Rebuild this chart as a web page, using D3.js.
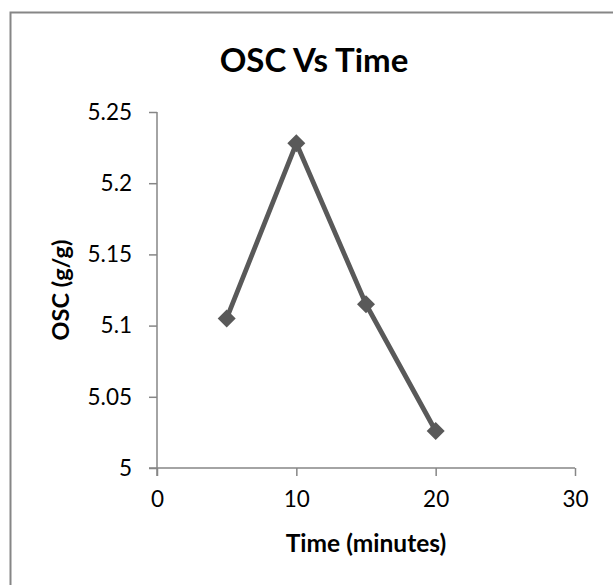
<!DOCTYPE html>
<html><head><meta charset="utf-8">
<script src="https://cdn.jsdelivr.net/npm/d3@7"></script>
<style>
html,body{margin:0;padding:0;background:#fff;}
svg{display:block;}
text{font-family:Lato,"Open Sans",sans-serif;fill:#000;}
</style></head>
<body>
<svg id="chart" width="613" height="585"></svg>
<script>
const title = "OSC Vs Time";
const xTitle = "Time (minutes)";
const yTitle = "OSC (g/g)";
const times = [5, 10, 15, 20];
const osc = [5.105, 5.228, 5.115, 5.026];
const xTicks = [0, 10, 20, 30];
const yTicks = [5, 5.05, 5.1, 5.15, 5.2, 5.25];
const yTickLabels = ["5", "5.05", "5.1", "5.15", "5.2", "5.25"];

const svg = d3.select("#chart");
const axisColor = "#868686";

// chart area border (extends past the image on right/bottom)
svg.append("rect").attr("x", 10.5).attr("y", 12.5).attr("width", 700).attr("height", 700)
  .attr("fill", "none").attr("stroke", axisColor).attr("stroke-width", 2);

const x = d3.scaleLinear().domain([0, 30]).range([157, 575]);
const y = d3.scaleLinear().domain([5, 5.25]).range([468, 112]);

// Y axis
const yAxis = d3.axisLeft(y).tickValues(yTicks).tickSize(8).tickPadding(17)
  .tickFormat((d, i) => yTickLabels[i]);
const gy = svg.append("g").attr("transform", `translate(${x(0)},0)`).call(yAxis);
gy.select(".domain").remove();
gy.append("line").attr("x1", 0).attr("x2", 0).attr("y1", y(5.25)).attr("y2", y(5) + 8)
  .attr("stroke", axisColor).attr("stroke-width", 1.5);
gy.selectAll(".tick line").attr("stroke", axisColor).attr("stroke-width", 1.5);
gy.selectAll(".tick text").style("font-size", "22.5px").attr("fill", "#000");

// X axis
const xAxis = d3.axisBottom(x).tickValues(xTicks).tickSize(8).tickPadding(15);
const gx = svg.append("g").attr("transform", `translate(0,${y(5)})`).call(xAxis);
gx.select(".domain").remove();
gx.append("line").attr("x1", x(0) - 8).attr("x2", x(30)).attr("y1", 0).attr("y2", 0)
  .attr("stroke", axisColor).attr("stroke-width", 1.5);
gx.selectAll(".tick line").attr("stroke", axisColor).attr("stroke-width", 1.5);
gx.selectAll(".tick text").style("font-size", "22.5px").attr("fill", "#000");

// line
const data = times.map((t, i) => ({t, v: osc[i]}));
svg.append("path").datum(data)
  .attr("fill", "none").attr("stroke", "#595959").attr("stroke-width", 4.8)
  .attr("stroke-linejoin", "round")
  .attr("d", d3.line().x(d => x(d.t)).y(d => y(d.v)));

// diamond markers
const s = 9;
svg.selectAll(".mk").data(data).join("path").attr("class", "mk")
  .attr("fill", "#595959")
  .attr("d", d => {
    const cx = x(d.t), cy = y(d.v);
    return `M${cx},${cy - s}L${cx + s},${cy}L${cx},${cy + s}L${cx - s},${cy}Z`;
  });

// titles
svg.append("text").attr("x", 314).attr("y", 72).attr("text-anchor", "middle")
  .style("font-size", "33px").style("font-weight", "bold").text(title);
svg.append("text").attr("x", (x(0) + x(30)) / 2).attr("y", 552).attr("text-anchor", "middle")
  .style("font-size", "24.5px").style("font-weight", "bold").text(xTitle);
svg.append("text").attr("transform", `translate(69,${(y(5) + y(5.25)) / 2}) rotate(-90)`)
  .attr("text-anchor", "middle")
  .style("font-size", "23.5px").style("font-weight", "bold").text(yTitle);
</script>
</body></html>
